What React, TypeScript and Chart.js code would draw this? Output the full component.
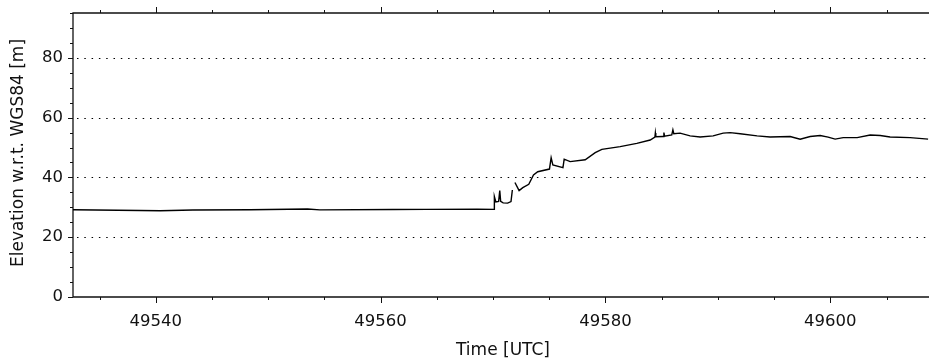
import React, { useEffect, useRef } from "react";
import { Chart, registerables } from "chart.js";

Chart.register(...registerables);

// Time axis [UTC] and elevation [m]; null marks a data gap
const times: number[] = [
  49532.64, 49538.6, 49540.4, 49543.3, 49548.4, 49553.5, 49554.6, 49561.1, 49564.1, 49568.6,
  49570.1, 49570.12, 49570.25, 49570.5, 49570.6, 49570.68, 49570.9, 49571.3, 49571.6, 49571.72,
  49571.85,
  49571.95, 49572.32, 49572.65, 49573.18, 49573.6, 49573.98, 49575.02, 49575.17, 49575.32,
  49576.22, 49576.33, 49576.86, 49578.2, 49579.09, 49579.68, 49581.31, 49582.79, 49583.98,
  49584.4, 49584.44, 49584.48, 49585.13, 49585.2, 49585.26, 49585.9, 49586.0, 49586.08,
  49586.64, 49587.53, 49588.42, 49589.58, 49590.47, 49591.09, 49591.98, 49593.49, 49594.65,
  49596.43, 49597.32, 49598.21, 49599.1, 49599.81, 49600.43, 49601.15, 49602.39, 49603.55,
  49604.44, 49605.32, 49607.1, 49608.7,
];
const elevation: (number | null)[] = [
  29.2, 28.95, 28.85, 29.1, 29.2, 29.45, 29.15, 29.25, 29.3, 29.35,
  29.3, 33.6, 31.8, 32.0, 35.6, 32.0, 31.5, 31.4, 31.9, 35.8,
  null,
  38.3, 35.6, 36.6, 37.7, 40.8, 41.9, 42.8, 46.6, 44.2,
  43.3, 46.1, 45.3, 45.9, 48.3, 49.4, 50.3, 51.4, 52.5,
  53.5, 54.9, 53.6, 53.7, 55.0, 53.8, 54.2, 55.9, 54.6,
  54.8, 53.9, 53.5, 53.9, 54.8, 55.0, 54.6, 53.9, 53.5,
  53.7, 52.8, 53.7, 54.0, 53.5, 52.8, 53.3, 53.3, 54.2,
  54.0, 53.5, 53.3, 52.8,
];

const xMin = 49532.64;
const xMax = 49608.78;
const yMin = 0;
const yMax = 95;
const xMajorStep = 20;
const xMinorStep = 5;
const yMajorStep = 20;
const yMinorStep = 5;
const gridLevels: number[] = [20, 40, 60, 80];
const xTitle = "Time [UTC]";
const yTitle = "Elevation w.r.t. WGS84 [m]";

const FONT = "DejaVu Sans";
const INK = "#111";

const framePlugin = {
  id: "frame",
  beforeDatasetsDraw(chart: any) {
    const { ctx, chartArea, scales } = chart;
    const { left, right, top, bottom } = chartArea;
    const xs = scales.x;
    const ys = scales.y;
    ctx.save();
    // dotted grid
    ctx.strokeStyle = "#000";
    ctx.lineWidth = 1;
    ctx.setLineDash([1.5, 5.8]);
    for (const v of gridLevels) {
      const y = Math.round(ys.getPixelForValue(v)) + 0.5;
      ctx.beginPath();
      ctx.moveTo(left + 4, y);
      ctx.lineTo(right, y);
      ctx.stroke();
    }
    ctx.setLineDash([]);
    // frame
    ctx.strokeStyle = INK;
    ctx.lineWidth = 1.3;
    ctx.beginPath();
    ctx.moveTo(right, top);
    ctx.lineTo(left, top);
    ctx.lineTo(left, bottom);
    ctx.lineTo(right, bottom);
    ctx.stroke();
    // x ticks (top and bottom, outward)
    ctx.lineWidth = 1;
    const startX = Math.ceil(xMin / xMinorStep) * xMinorStep;
    for (let v = startX; v <= xMax; v += xMinorStep) {
      const px = Math.round(xs.getPixelForValue(v)) + 0.5;
      const major = Math.abs(v / xMajorStep - Math.round(v / xMajorStep)) < 1e-6;
      const len = major ? 6 : 3;
      ctx.beginPath();
      ctx.moveTo(px, bottom);
      ctx.lineTo(px, bottom + len);
      ctx.moveTo(px, top);
      ctx.lineTo(px, top - len);
      ctx.stroke();
    }
    // y ticks (left, outward)
    for (let v = yMin; v <= yMax + 1e-6; v += yMinorStep) {
      const py = Math.round(ys.getPixelForValue(v)) + 0.5;
      const major = v % yMajorStep === 0;
      const len = major ? 5 : 3;
      ctx.beginPath();
      ctx.moveTo(left, py);
      ctx.lineTo(left - len, py);
      ctx.stroke();
    }
    ctx.restore();
  },
  afterDraw(chart: any) {
    const { ctx, chartArea } = chart;
    ctx.save();
    ctx.fillStyle = INK;
    ctx.font = `17px "${FONT}"`;
    ctx.textAlign = "center";
    ctx.textBaseline = "middle";
    ctx.fillText(xTitle, (chartArea.left + chartArea.right) / 2 + 2, 351);
    ctx.translate(19, 153);
    ctx.rotate(-Math.PI / 2);
    ctx.fillText(yTitle, 0, 0);
    ctx.restore();
  },
};

export default function App() {
  const ref = useRef<HTMLCanvasElement | null>(null);
  useEffect(() => {
    if (!ref.current) return;
    const points = times.map((t, i) => ({ x: t, y: elevation[i] }));
    const chart = new Chart(ref.current, {
      type: "line",
      data: {
        datasets: [
          {
            data: points as any,
            borderColor: "#000",
            borderWidth: 1.4,
            pointRadius: 0,
            tension: 0,
            spanGaps: false,
            fill: false,
          },
        ],
      },
      options: {
        animation: false,
        responsive: false,
        devicePixelRatio: 1,
        layout: { padding: { top: 13, right: 0, left: 0, bottom: 0 } },
        plugins: { legend: { display: false }, tooltip: { enabled: false } },
        scales: {
          x: {
            type: "linear",
            min: xMin,
            max: xMax,
            grid: { display: false, drawTicks: false },
            border: { display: false },
            ticks: {
              stepSize: xMajorStep,
              includeBounds: false,
              maxRotation: 0,
              autoSkip: false,
              padding: 15,
              color: INK,
              font: { family: FONT, size: 16.5 },
              callback: (v: any) => String(v),
            },
            afterFit: (s: any) => {
              s.height = 64;
              s.paddingLeft = 0;
              s.paddingRight = 0;
              s.paddingTop = 0;
              s.paddingBottom = 0;
            },
          },
          y: {
            min: yMin,
            max: yMax,
            grid: { display: false, drawTicks: false },
            border: { display: false },
            ticks: {
              stepSize: yMajorStep,
              includeBounds: false,
              padding: 10,
              color: INK,
              font: { family: FONT, size: 16.5 },
              callback: (v: any) => String(v),
            },
            afterFit: (s: any) => {
              s.width = 73;
              s.paddingTop = 0;
              s.paddingBottom = 0;
              s.paddingLeft = 0;
              s.paddingRight = 0;
            },
          },
        },
      },
      plugins: [framePlugin],
    });
    return () => chart.destroy();
  }, []);
  return (
    <div style={{ position: "absolute", left: 0, top: 0, width: 929, height: 361, background: "#fff" }}>
      <canvas ref={ref} width={929} height={361} style={{ display: "block" }} />
    </div>
  );
}
